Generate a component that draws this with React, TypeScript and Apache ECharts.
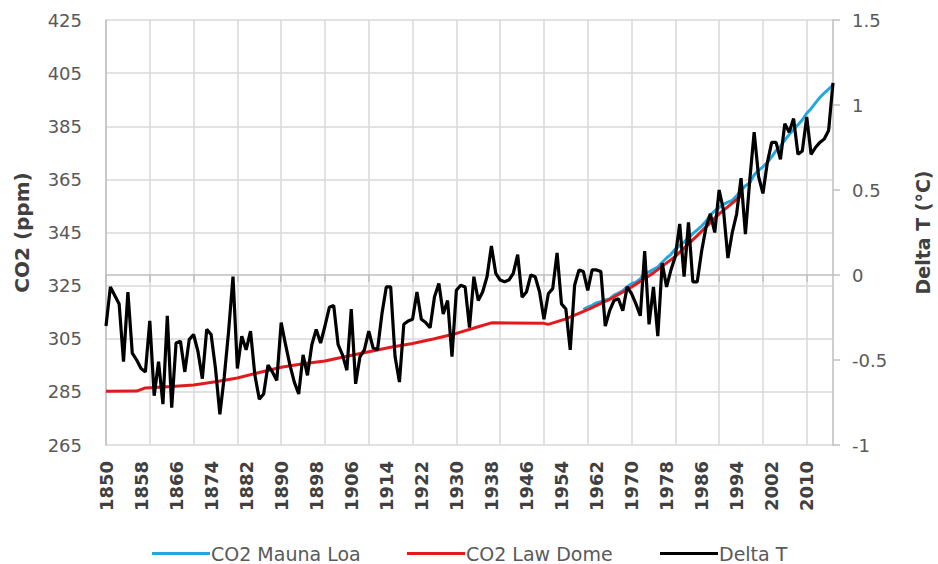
import { useEffect, useRef } from "react";
import * as echarts from "echarts";

const firstYear = 1850;
const lastYear = 2016;
const years: string[] = [];
for (let y = firstYear; y <= lastYear; y++) years.push(String(y));

// Delta T (°C), 1850..2016
const deltaT = [
  -0.30, -0.07, -0.12, -0.17, -0.51, -0.10, -0.46, -0.50, -0.55, -0.57, // 1850
  -0.27, -0.71, -0.51, -0.76, -0.24, -0.78, -0.40, -0.39, -0.57, -0.38, // 1860
  -0.35, -0.45, -0.61, -0.32, -0.35, -0.55, -0.82, -0.60, -0.33, -0.01, // 1870
  -0.55, -0.36, -0.44, -0.33, -0.59, -0.73, -0.70, -0.53, -0.57, -0.62, // 1880
  -0.28, -0.41, -0.53, -0.63, -0.70, -0.47, -0.59, -0.41, -0.32, -0.40, // 1890
  -0.30, -0.19, -0.18, -0.41, -0.47, -0.56, -0.20, -0.64, -0.48, -0.44, // 1900
  -0.33, -0.43, -0.44, -0.23, -0.07, -0.07, -0.48, -0.63, -0.29, -0.27, // 1910
  -0.26, -0.10, -0.26, -0.28, -0.31, -0.13, -0.05, -0.23, -0.15, -0.48, // 1920
  -0.09, -0.06, -0.07, -0.31, -0.01, -0.15, -0.10, -0.01, 0.17, 0.01, // 1930
  -0.03, -0.04, -0.03, 0.01, 0.12, -0.13, -0.10, 0.00, -0.01, -0.10, // 1940
  -0.26, -0.11, -0.08, 0.13, -0.17, -0.20, -0.44, -0.06, 0.03, 0.02, // 1950
  -0.09, 0.03, 0.03, 0.02, -0.30, -0.21, -0.15, -0.14, -0.21, -0.07, // 1960
  -0.11, -0.17, -0.24, 0.14, -0.29, -0.07, -0.36, 0.07, -0.07, 0.03, // 1970
  0.11, 0.30, -0.01, 0.31, -0.04, -0.04, 0.14, 0.28, 0.36, 0.25, // 1980
  0.50, 0.38, 0.10, 0.25, 0.36, 0.57, 0.24, 0.56, 0.84, 0.58, // 1990
  0.48, 0.66, 0.78, 0.78, 0.68, 0.89, 0.84, 0.92, 0.71, 0.73, // 2000
  0.93, 0.71, 0.75, 0.78, 0.80, 0.85, 1.13, // 2010
];

// CO2 Mauna Loa (ppm), 1959..2016
const maunaLoaStart = 1959;
const maunaLoa = [
  316.0, 316.9, 317.6, 318.5, 319.0, 319.6, 320.0, 321.4, 322.2, 323.0, // 1959
  324.6, 325.7, 326.3, 327.5, 329.7, 330.2, 331.1, 332.0, 333.8, 335.4, // 1969
  336.8, 338.8, 340.1, 341.4, 343.0, 344.6, 346.0, 347.4, 349.2, 351.6, // 1979
  353.1, 354.4, 355.6, 356.4, 357.1, 358.8, 360.8, 362.6, 363.7, 366.7, // 1989
  368.4, 369.7, 371.3, 373.5, 375.8, 377.5, 379.8, 381.9, 383.8, 385.6, // 1999
  387.4, 389.9, 391.6, 393.8, 395.8, 397.5, 399.0, 400.5, // 2009
];

// CO2 Law Dome (ppm), sampled years
const lawDomeYears = [
  1850, 1857, 1859, 1865, 1870, 1875, 1880, 1885, 1890, 1895, 1900, 1905,
  1910, 1915, 1920, 1925, 1930, 1935, 1938, 1950, 1951, 1955, 1960, 1965,
  1970, 1975, 1980, 1985, 1990, 1995,
];
const lawDomeValues = [
  285.2, 285.3, 286.5, 287.0, 287.6, 288.8, 290.2, 292.3, 294.3, 295.6, 296.6, 298.4,
  300.1, 301.8, 303.2, 305.0, 307.0, 309.5, 311.0, 310.8, 310.4, 312.5, 316.0, 319.8,
  324.5, 329.8, 336.0, 343.8, 352.0, 358.8,
];

const seriesNames = ["CO2 Mauna Loa", "CO2 Law Dome", "Delta T"];

const FONT = "DejaVu Sans";
const GRID_COLOR = "#d9d9d9";
const AXIS_COLOR = "#bfbfbf";
const LABEL_COLOR = "#595959";

export default function App() {
  const ref = useRef<HTMLDivElement>(null);

  useEffect(() => {
    document.body.style.margin = "0";
    if (!ref.current) return;
    const chart = echarts.init(ref.current, undefined, { renderer: "svg" });

    const mlData = maunaLoa.map((v, i) => [String(maunaLoaStart + i), v]);
    const ldData = lawDomeYears.map((y, i) => [String(y), lawDomeValues[i]]);

    const legendLefts = [147, 402, 655];
    const legends = seriesNames.map((n, i) => ({
      data: [n],
      left: legendLefts[i],
      top: 539,
      icon: "rect",
      itemWidth: 58,
      itemHeight: 3,
      textStyle: { fontFamily: FONT, fontSize: 19, color: LABEL_COLOR, padding: [0, 0, 0, -4] },
    }));

    chart.setOption({
      animation: false,
      backgroundColor: "#ffffff",
      grid: {
        left: 106,
        right: 105,
        top: 20,
        bottom: 119,
        containLabel: false,
        outerBoundsMode: "none",
      },
      legend: legends,
      xAxis: {
        type: "category",
        data: years,
        boundaryGap: false,
        axisLine: { show: true, lineStyle: { color: AXIS_COLOR, width: 1.5 } },
        axisTick: { show: true, interval: 9, length: 7, lineStyle: { color: AXIS_COLOR, width: 1.5 } },
        splitLine: { show: true, interval: 9, lineStyle: { color: GRID_COLOR, width: 1.5 } },
        axisLabel: {
          interval: 7,
          rotate: 90,
          margin: 16,
          fontFamily: FONT,
          fontSize: 18,
          fontWeight: "bold",
          color: "#404040",
        },
      },
      yAxis: [
        {
          type: "value",
          min: 265,
          max: 425,
          interval: 20,
          name: "CO2 (ppm)",
          nameLocation: "middle",
          nameRotate: 90,
          nameGap: 74,
          nameTextStyle: { fontFamily: FONT, fontSize: 20, fontWeight: "bold", color: "#404040" },
          axisLine: { show: true, lineStyle: { color: AXIS_COLOR, width: 1.5 } },
          axisTick: { show: false },
          splitLine: { show: true, lineStyle: { color: GRID_COLOR, width: 1.5 } },
          axisLabel: { fontFamily: FONT, fontSize: 18, color: LABEL_COLOR, margin: 24 },
        },
        {
          type: "value",
          min: -1,
          max: 1.5,
          interval: 0.5,
          position: "right",
          name: "Delta T (°C)",
          nameLocation: "middle",
          nameRotate: 90,
          nameGap: 80,
          nameTextStyle: { fontFamily: FONT, fontSize: 19, fontWeight: "bold", color: "#404040" },
          axisLine: { show: true, lineStyle: { color: AXIS_COLOR, width: 1.5 } },
          axisTick: { show: true, length: 7, lineStyle: { color: AXIS_COLOR, width: 1.5 } },
          splitLine: { show: false },
          axisLabel: { fontFamily: FONT, fontSize: 18, color: LABEL_COLOR, margin: 19 },
        },
      ],
      series: [
        {
          name: seriesNames[0],
          type: "line",
          yAxisIndex: 0,
          data: mlData,
          showSymbol: false,
          symbol: "none",
          lineStyle: { color: "#22a8df", width: 3 },
          itemStyle: { color: "#22a8df" },
        },
        {
          name: seriesNames[1],
          type: "line",
          yAxisIndex: 0,
          data: ldData,
          showSymbol: false,
          symbol: "none",
          lineStyle: { color: "#e3191c", width: 3 },
          itemStyle: { color: "#e3191c" },
        },
        {
          name: seriesNames[2],
          type: "line",
          yAxisIndex: 1,
          data: deltaT,
          showSymbol: false,
          symbol: "none",
          lineStyle: { color: "#000000", width: 3.2 },
          itemStyle: { color: "#000000" },
        },
      ],
    });

    return () => chart.dispose();
  }, []);

  return <div ref={ref} style={{ width: 938, height: 564 }} />;
}
